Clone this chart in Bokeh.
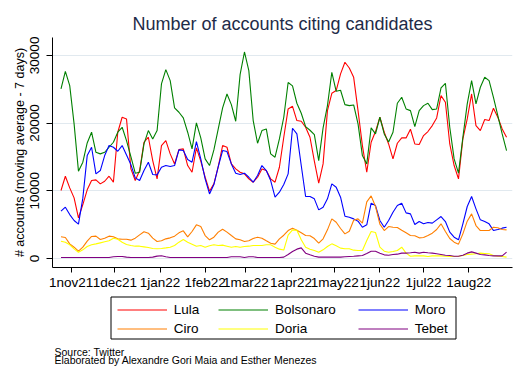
import pandas as pd
from bokeh.plotting import figure
from bokeh.layouts import column
from bokeh.models import Range1d, FixedTicker, Legend, LegendItem, Label, BoxAnnotation
from bokeh.embed import file_html
from bokeh.resources import INLINE

# ---------------- data (7-day moving averages, sampled every 3 days) ----------------
start_date = "2021-10-25"
n_points = 103
step_days = 3
dates = pd.date_range(start_date, periods=n_points, freq=f"{step_days}D")

lula = [10040, 12150, 10430, 8950, 6000, 7970, 10140, 11510, 11610, 11020, 11410, 12150, 11270,
        18650, 20860, 20610, 13230, 11510, 12990, 17170, 17910, 14460, 11760, 16680, 17420, 15450, 13970,
        16090, 16190, 13730, 12740, 16330, 14370, 12000, 9940, 11020, 13580, 16680, 16430, 13970,
        13230, 12740, 12500, 11760, 11270, 12000, 13230, 12990, 11760, 11270, 13480, 17910, 22090,
        22480, 20370, 20270, 19380, 17910, 14370, 11120, 13970, 21840, 24400, 24800, 27260, 28980,
        28140, 26760, 21840, 16680, 12740, 17170, 18750, 20860, 18650, 16920, 14710, 17020, 17810,
        17810, 19090, 16920, 16830, 18150, 18750, 19630, 20760, 24060, 23070, 16920, 13730, 11760,
        17660, 20610, 24300, 19630, 18890, 20520, 20370, 22190, 20860, 19140, 17910]

bolsonaro = [25040, 27650, 25530, 19880, 12900, 14220, 17070, 18650, 15690, 15450, 15690, 16430, 17170,
             18650, 19380, 17420, 15060, 12600, 12740, 16920, 18890, 17660, 18890, 25780, 27900, 26270, 22240,
             21600, 20760, 18650, 16190, 20020, 17810, 14710, 13730, 16040, 19140, 22240, 24300, 22730,
             20270, 27160, 30500, 27750, 20370, 17020, 18890, 19140, 15450, 14960, 17660, 20860, 26000,
             25500, 22930, 21450, 19480, 18940, 18300, 14460, 19290, 22580, 27500, 24700, 24850, 22730,
             22580, 22680, 19880, 15200, 13970, 19290, 18400, 20860, 18400, 17220, 18650, 22930, 23810,
             22090, 21840, 19480, 21840, 22580, 22930, 21990, 22090, 25190, 25880, 19380, 14710, 12600,
             17910, 22830, 26270, 22830, 25290, 26760, 26270, 23810, 21110, 18400, 15940]

moro = [6990, 7580, 6490, 5610, 5070, 8910, 15200, 16430, 12500, 12990, 15200, 16680, 16430,
        15840, 16680, 15300, 13870, 11910, 11510, 12990, 14220, 12400, 12350, 13480, 13730, 13580, 13730,
        16040, 15940, 14610, 14220, 17270, 14710, 11760, 9540, 10920, 13580, 15940, 15790, 13970,
        12600, 12400, 12600, 12000, 11270, 12250, 13730, 12990, 11510, 9050, 9790, 10920, 12500,
        19240, 18400, 13730, 9150, 9150, 8810, 7180, 7580, 8810, 11020, 10530, 9050, 6250,
        6100, 5850, 5510, 4620, 4970, 8170, 7820, 5610, 4620, 5610, 6840, 7820, 8170,
        6740, 6590, 5020, 5460, 5120, 5310, 5220, 5710, 6200, 5460, 3890, 3150, 2760,
        5120, 7680, 9150, 7330, 5710, 5460, 5120, 4130, 4280, 4480, 4620]

ciro = [3200, 3100, 2160, 1670, 1080, 1670, 2560, 3250, 3300, 2800, 3000, 3300, 3200,
        2900, 2850, 2850, 2710, 3000, 3490, 3940, 3740, 3000, 2510, 2610, 2900, 3050, 3300,
        3790, 4080, 3200, 3990, 4970, 4720, 3390, 2760, 3150, 3890, 4330, 3890, 3390,
        2900, 2760, 2510, 2610, 2950, 3150, 3000, 2610, 2260, 2120, 2900, 3440, 4130,
        4480, 4180, 3790, 3390, 3350, 2950, 2260, 2900, 4230, 5850, 5360, 4430, 3640,
        4030, 5660, 5850, 5220, 8360, 9250, 7680, 5070, 4130, 4720, 4620, 4580, 4180,
        3790, 3390, 3350, 3050, 3100, 3390, 3740, 4280, 5120, 3990, 2950, 2410, 2120,
        3640, 5510, 6590, 4870, 4130, 4130, 4130, 4620, 4530, 4280, 4230]

doria = [2560, 2410, 2020, 1430, 930, 1280, 1770, 2020, 2160, 2310, 2460, 2610, 2990,
         2850, 2410, 2070, 1920, 1820, 1820, 1720, 1620, 1480, 1430, 1480, 1570, 1670, 1920,
         2410, 2800, 2410, 2120, 1820, 1920, 1670, 1870, 2020, 1920, 1970, 1820, 1670,
         1770, 1670, 1770, 1820, 1920, 1920, 1920, 2020, 2020, 1670, 1380, 1250, 3440,
         4230, 4180, 2760, 1670, 1380, 1180, 930, 1280, 1770, 2160, 1870, 1530, 1430,
         1430, 1230, 1180, 1180, 2660, 3990, 3840, 1670, 1080, 930, 1030, 1180, 1670,
         790, 340, 390, 390, 390, 300, 390, 390, 390, 340, 300, 300, 340,
         440, 590, 640, 690, 790, 740, 690, 440, 340, 300, 200]

tebet = [150, 150, 150, 150, 150, 150, 150, 150, 150, 150, 150, 150, 250,
         300, 300, 200, 150, 150, 150, 150, 150, 200, 350, 400, 250, 150, 150,
         150, 150, 150, 150, 150, 150, 150, 150, 150, 150, 150, 150, 250,
         250, 250, 150, 250, 250, 150, 150, 150, 150, 150, 150, 200, 590,
         1030, 1380, 1570, 790, 540, 340, 200, 200, 200, 200, 200, 200, 250,
         300, 340, 390, 440, 740, 1080, 1080, 790, 540, 490, 590, 640, 790,
         790, 840, 930, 790, 930, 840, 790, 690, 590, 490, 440, 340, 340,
         490, 790, 980, 790, 590, 540, 440, 390, 390, 390, 930]

names = ["Lula", "Bolsonaro", "Moro", "Ciro", "Doria", "Tebet"]
colors = ["#ff0000", "#008000", "#0000ff", "#ff7f00", "#ffff00", "#800080"]
series = [lula, bolsonaro, moro, ciro, doria, tebet]

tick_dates = ["2021-11-01", "2021-12-01", "2022-01-01", "2022-02-01", "2022-03-01",
              "2022-04-01", "2022-05-01", "2022-06-01", "2022-07-01", "2022-08-01"]
tick_labels = ["1nov21", "1dec21", "1jan22", "1feb22", "1mar22",
               "1apr22", "1may22", "1jun22", "1jul22", "1aug22"]
y_ticks = [0, 10000, 20000, 30000]

source_lines = ["Source: Twitter", "Elaborated by Alexandre Gori Maia and Esther Menezes"]

# ---------------- main chart ----------------
FONT = "Liberation Sans"
p = figure(width=528, height=292, x_axis_type="datetime",
           x_range=Range1d(pd.Timestamp("2021-10-19 04:00"), pd.Timestamp("2022-08-31 02:00")),
           y_range=Range1d(-1330, 32640),
           output_backend="svg", toolbar_location=None,
           min_border_left=52, min_border_right=16, min_border_top=37, min_border_bottom=25)
p.outline_line_color = None
p.background_fill_color = "white"
p.border_fill_color = "white"

p.title.text = "Number of accounts citing candidates"
p.title.align = "center"
p.title.text_font = FONT
p.title.text_font_size = "18px"
p.title.text_font_style = "normal"
p.title.text_color = "#1e2b48"
p.title.standoff = 7

for vals, col in zip(series, colors):
    p.line(dates, vals, line_color=col, line_width=1.1)

tick_ms = [int(pd.Timestamp(t).value // 10**6) for t in tick_dates]
xa = p.xaxis[0]
xa.ticker = FixedTicker(ticks=tick_ms)
xa.major_label_overrides = {ms: lab for ms, lab in zip(tick_ms, tick_labels)}
ya = p.yaxis[0]
ya.ticker = FixedTicker(ticks=y_ticks)
ya.major_label_orientation = "vertical"
ya.axis_label = "# accounts (moving average - 7 days)"
ya.axis_label_text_font = FONT
ya.axis_label_text_font_size = "12.5px"
ya.axis_label_text_font_style = "normal"
ya.axis_label_text_color = "black"
ya.axis_label_standoff = 1
for ax in (xa, ya):
    ax.axis_line_color = "black"
    ax.major_tick_line_color = "black"
    ax.minor_tick_line_color = None
    ax.major_tick_in = 0
    ax.major_tick_out = 5
    ax.major_label_text_font = FONT
    ax.major_label_text_font_size = "13.5px"
    ax.major_label_text_color = "black"
xa.major_label_standoff = 2
ya.major_tick_out = 6
ya.major_label_standoff = 7

p.xgrid.visible = False
p.ygrid.grid_line_color = "#e1e9ef"
p.ygrid.grid_line_width = 1

# ---------------- legend + source panel (data units = page pixels) ----------------
q = figure(width=528, height=92, x_range=Range1d(52, 512), y_range=Range1d(0, 92),
           x_axis_location=None, y_axis_location=None,
           min_border_left=52, min_border_right=16, min_border_top=0, min_border_bottom=0,
           output_backend="svg", toolbar_location=None)
q.grid.visible = False
q.outline_line_color = None
q.background_fill_color = "white"
q.border_fill_color = "white"

# legend keys: same series, drawn outside this panel's visible range
keys = [q.line(dates, vals, line_color=col, line_width=1.1) for vals, col in zip(series, colors)]

columns_items = [(0, 3), (1, 4), (2, 5)]
col_x = [64.7, 166, 305.7]
for (a, b), cx in zip(columns_items, col_x):
    leg = Legend(items=[LegendItem(label=names[a], renderers=[keys[a]]),
                        LegendItem(label=names[b], renderers=[keys[b]])],
                 orientation="vertical", location=(cx, 48.5),
                 border_line_color=None, background_fill_alpha=0,
                 padding=0, spacing=4, margin=0,
                 glyph_width=50, glyph_height=15, label_height=15,
                 label_standoff=7, label_text_font=FONT, label_text_font_size="13.5px",
                 label_text_color="black")
    q.add_layout(leg, "center")

q.add_layout(BoxAnnotation(left=110.5, right=455.5, bottom=45.5, top=87.5,
                           fill_alpha=0, line_color="black", line_width=1, line_alpha=1))

for i, line in enumerate(source_lines):
    q.add_layout(Label(x=54, y=[33, 24.5][i], text=line,
                       text_font=FONT, text_font_size="10.5px", text_color="black",
                       text_baseline="alphabetic"))

layout = column(p, q, spacing=0)
open("out.html", "w").write(file_html(layout, INLINE))
